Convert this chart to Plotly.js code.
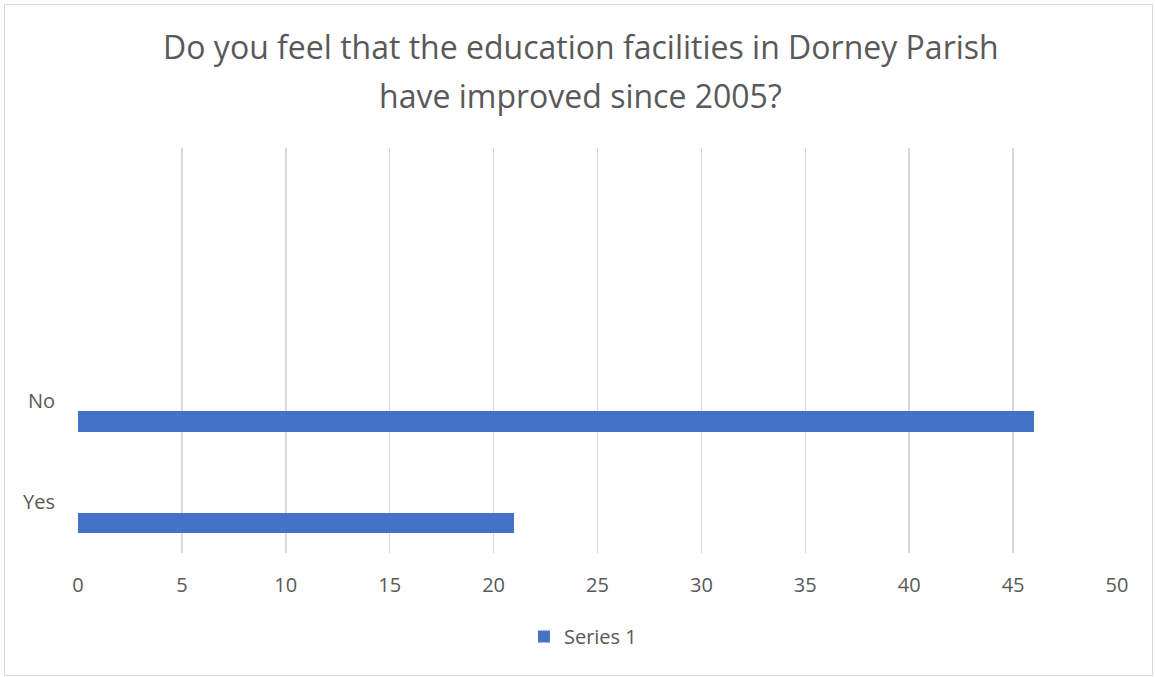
<!DOCTYPE html>
<html><head><meta charset="utf-8">
<script src="https://cdn.plot.ly/plotly-3.0.1.min.js"></script>
<style>
html,body{margin:0;padding:0;background:#fff;}
#wrap{position:relative;width:1155px;height:677px;}
#frame{position:absolute;left:4px;top:4px;width:1149px;height:672px;border:1px solid #d9d9d9;box-sizing:border-box;pointer-events:none;}
#chart{position:absolute;left:0;top:0;width:1155px;height:677px;}
</style></head>
<body><div id="wrap"><div id="chart"></div><div id="frame"></div></div>
<script>
const categories = ['Yes', 'No'];
const series1 = [21, 46];
const seriesName = 'Series 1';
const titleLine1 = 'Do you feel that the education facilities in Dorney Parish';
const titleLine2 = 'have improved since 2005?';
const xTicks = [0, 5, 10, 15, 20, 25, 30, 35, 40, 45, 50];

const font = '"Open Sans", sans-serif';
const grey = '#595959';
const trace = {
  type: 'bar', orientation: 'h',
  y: categories, x: series1, name: seriesName,
  marker: {color: '#4472c4'},
  width: 0.2, offset: -0.3,
  hoverinfo: 'x+y'
};
const layout = {
  width: 1155, height: 677,
  margin: {l: 78, r: 38, t: 148, b: 124},
  paper_bgcolor: '#fff', plot_bgcolor: '#fff',
  title: {text: titleLine1, font: {family: font, size: 32, color: grey},
          x: 0.484, xanchor: 'center', xref: 'paper', y: 1 - 48 / 677, yref: 'container', yanchor: 'middle'},
  annotations: [{text: titleLine2, xref: 'paper', yref: 'paper', x: 0.484, xanchor: 'center',
                 y: 1 + (148 - 96) / 405, yanchor: 'middle', showarrow: false,
                 font: {family: font, size: 32, color: grey}}],
  xaxis: {range: [0, 50], tickvals: xTicks, showgrid: true, gridcolor: '#d9d9d9', gridwidth: 1.5,
          zeroline: false, showline: false, ticks: '', ticklabelstandoff: 18,
          tickfont: {family: font, size: 20, color: grey}, fixedrange: true},
  yaxis: {type: 'category', categoryorder: 'array', categoryarray: categories, range: [-0.5, 3.5],
          showgrid: false, zeroline: false, showline: false, ticks: '', ticklabelstandoff: 22,
          tickfont: {family: font, size: 20, color: grey}, fixedrange: true},
  showlegend: true,
  legend: {orientation: 'h', x: 0.486, xanchor: 'center', y: -0.158, yanchor: 'top', itemwidth: 30,
           font: {family: font, size: 20, color: grey}},
  bargap: 0
};
Plotly.newPlot('chart', [trace], layout, {displayModeBar: false, staticPlot: true});
</script></body></html>
